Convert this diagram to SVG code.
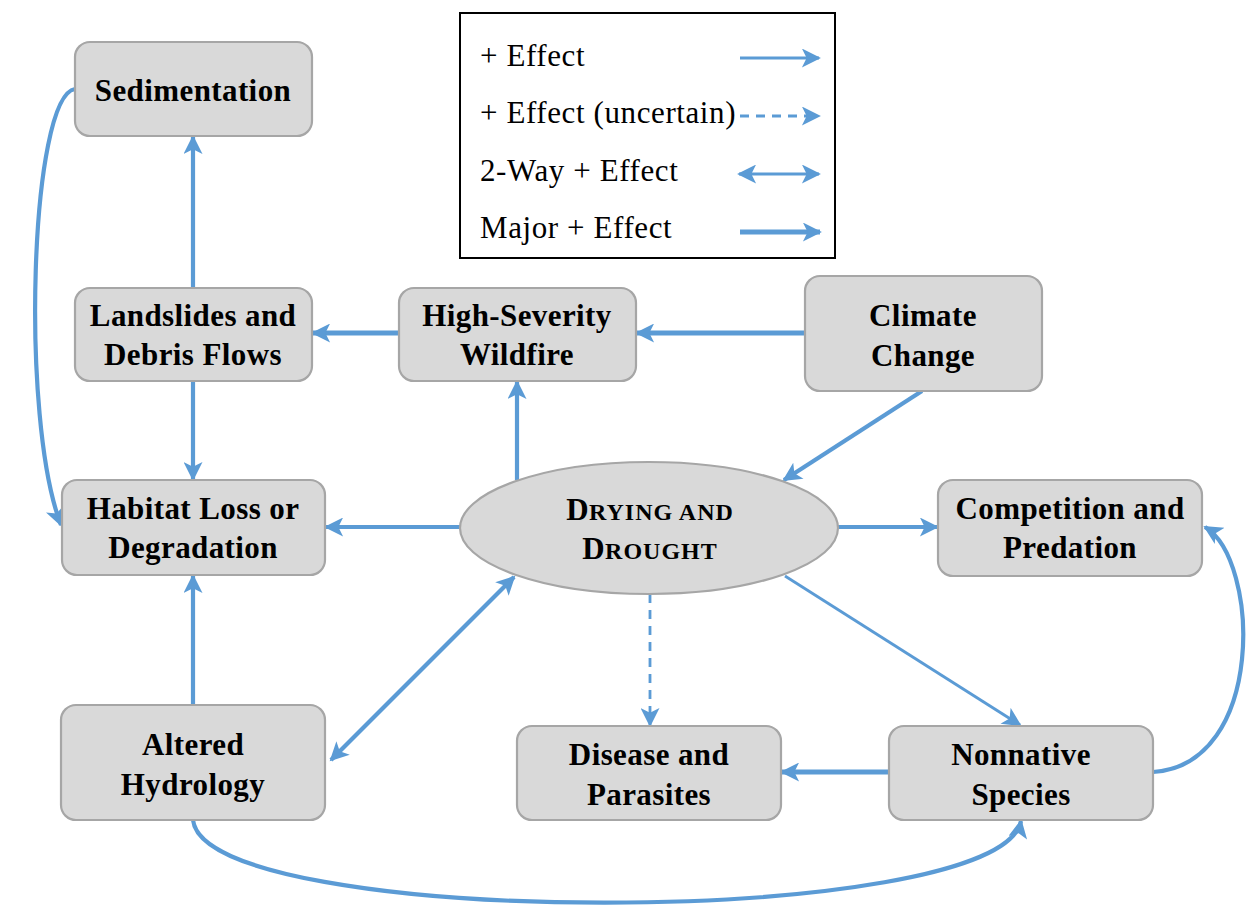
<svg xmlns="http://www.w3.org/2000/svg" width="1248" height="907" viewBox="0 0 1248 907">
  <defs>
    <marker id="head" viewBox="0 0 10 10" refX="9" refY="5" markerUnits="userSpaceOnUse" markerWidth="21" markerHeight="19" orient="auto-start-reverse">
      <path d="M0,0 L10,5 L0,10 L2.5,5 Z" fill="#5b9bd5"/>
    </marker>
    <style>
      .node { fill: #d9d9d9; stroke: #a6a6a6; stroke-width: 2.2; }
      .lbl { font-family: "Liberation Serif", "Times New Roman", serif; font-weight: bold; font-size: 31px; letter-spacing: 0.4px; fill: #000; text-anchor: middle; }
      .leg { font-family: "Liberation Serif", "Times New Roman", serif; font-size: 31px; letter-spacing: 0.6px; fill: #000; }
      .edge { fill: none; stroke: #5b9bd5; stroke-width: 4.2; }
      .major { stroke-width: 5.2; }
      .thin { stroke-width: 2.8; }
      .dash { stroke-dasharray: 9 7; }
      .arrow { marker-end: url(#head); }
      .both { marker-start: url(#head); marker-end: url(#head); }
    </style>
  </defs>
  <rect width="1248" height="907" fill="#ffffff"/>

  <!-- legend -->
  <g id="legend">
    <rect x="460" y="13" width="375" height="245" fill="#ffffff" stroke="#000" stroke-width="2"/>
    <text class="leg" x="480" y="66">+ Effect</text>
    <text class="leg" x="480" y="123">+ Effect (uncertain)</text>
    <text class="leg" x="480" y="181">2-Way + Effect</text>
    <text class="leg" x="480" y="238">Major + Effect</text>
    <line class="edge thin arrow" x1="740" y1="58" x2="819" y2="58"/>
    <line class="edge thin dash arrow" x1="740" y1="116" x2="819" y2="116"/>
    <line class="edge thin both" x1="739" y1="174" x2="819" y2="174"/>
    <line class="edge major arrow" x1="740" y1="232" x2="820" y2="232"/>
  </g>

  <!-- connectors -->
  <g id="connectors">
    <line class="edge arrow" x1="193" y1="288" x2="193" y2="137"/>
    <line class="edge arrow" x1="193" y1="381" x2="193" y2="479"/>
    <line class="edge major arrow" x1="399" y1="333" x2="313" y2="333"/>
    <line class="edge major arrow" x1="805" y1="333" x2="637" y2="333"/>
    <line class="edge arrow" x1="517" y1="480" x2="517" y2="382"/>
    <line class="edge arrow" x1="922" y1="391" x2="784" y2="480"/>
    <line class="edge arrow" x1="460" y1="527" x2="326" y2="527"/>
    <line class="edge arrow" x1="838" y1="527" x2="937" y2="527"/>
    <line class="edge thin dash arrow" x1="650" y1="594" x2="650" y2="725"/>
    <line class="edge thin arrow" x1="785" y1="576" x2="1020" y2="725"/>
    <line class="edge arrow" x1="193" y1="705" x2="193" y2="576"/>
    <line class="edge both" x1="331" y1="760" x2="514" y2="577"/>
    <line class="edge major arrow" x1="889" y1="772" x2="782" y2="772"/>
    <path class="edge arrow" d="M1153,772 C1266,765 1260,560 1205,527"/>
    <path class="edge arrow" d="M193,820 C205,930 1000,930 1021,821"/>
    <path class="edge arrow" d="M75,89 C30,96 20,420 61,525"/>
  </g>

  <!-- nodes -->
  <g id="sedimentation">
    <rect class="node" x="75" y="42" width="237" height="94" rx="15"/>
    <text class="lbl" x="193" y="101">Sedimentation</text>
  </g>
  <g id="landslides">
    <rect class="node" x="75" y="288" width="237" height="93" rx="15"/>
    <text class="lbl" x="193" y="326">Landslides and</text>
    <text class="lbl" x="193" y="365">Debris Flows</text>
  </g>
  <g id="wildfire">
    <rect class="node" x="399" y="288" width="237" height="93" rx="15"/>
    <text class="lbl" x="517" y="326">High-Severity</text>
    <text class="lbl" x="517" y="365">Wildfire</text>
  </g>
  <g id="climate">
    <rect class="node" x="805" y="276" width="237" height="115" rx="15"/>
    <text class="lbl" x="923" y="326">Climate</text>
    <text class="lbl" x="923" y="366">Change</text>
  </g>
  <g id="habitat">
    <rect class="node" x="62" y="480" width="263" height="95" rx="15"/>
    <text class="lbl" x="193" y="519">Habitat Loss or</text>
    <text class="lbl" x="193" y="558">Degradation</text>
  </g>
  <g id="drying">
    <ellipse class="node" cx="649" cy="528" rx="189" ry="66"/>
    <text class="lbl" x="650" y="520">D<tspan font-size="24" letter-spacing="1">RYING AND</tspan></text>
    <text class="lbl" x="650" y="559">D<tspan font-size="24" letter-spacing="1">ROUGHT</tspan></text>
  </g>
  <g id="competition">
    <rect class="node" x="938" y="480" width="264" height="96" rx="15"/>
    <text class="lbl" x="1070" y="519">Competition and</text>
    <text class="lbl" x="1070" y="558">Predation</text>
  </g>
  <g id="hydrology">
    <rect class="node" x="61" y="705" width="264" height="115" rx="15"/>
    <text class="lbl" x="193" y="755">Altered</text>
    <text class="lbl" x="193" y="795">Hydrology</text>
  </g>
  <g id="disease">
    <rect class="node" x="517" y="726" width="264" height="94" rx="15"/>
    <text class="lbl" x="649" y="765">Disease and</text>
    <text class="lbl" x="649" y="805">Parasites</text>
  </g>
  <g id="nonnative">
    <rect class="node" x="889" y="726" width="264" height="94" rx="15"/>
    <text class="lbl" x="1021" y="765">Nonnative</text>
    <text class="lbl" x="1021" y="805">Species</text>
  </g>
</svg>
